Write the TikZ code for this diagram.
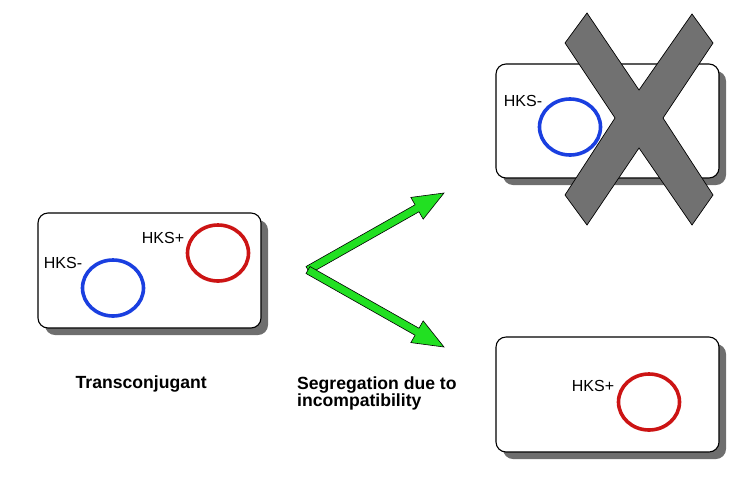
\documentclass[tikz,border=0pt]{standalone}
\usepackage{fontspec}
\setmainfont{Liberation Sans}
\usetikzlibrary{calc,shapes.geometric,shadows}
\definecolor{hksblue}{HTML}{1A3FE0}
\definecolor{hksred}{HTML}{CC1414}
\definecolor{arrowgreen}{HTML}{22E022}
\definecolor{shadowgray}{HTML}{6E6E6E}
\definecolor{crossgray}{HTML}{717171}
\begin{document}
\begin{tikzpicture}[x=1pt,y=-1pt,
  cellbox/.style={draw=black, line width=1.1pt, fill=white, rounded corners=10pt,
    minimum width=223pt, minimum height=115pt, inner sep=0pt,
    drop shadow={shadow xshift=7pt, shadow yshift=-7pt, fill=shadowgray, opacity=1}},
  plasmid/.style={ellipse, draw, line width=3.6pt, minimum width=61pt, minimum height=56pt, inner sep=0pt},
  blueplasmid/.style={plasmid, draw=hksblue},
  redplasmid/.style={plasmid, draw=hksred},
  hkslabel/.style={inner sep=0pt, font=\fontsize{16}{18}\selectfont},
  caption/.style={inner sep=0pt, font=\bfseries\fontsize{17.6}{17.5}\selectfont, align=left},
  greenarrow/.style={fill=arrowgreen, draw=black, line width=0.6pt, line join=miter}
]
\useasboundingbox (0,0) rectangle (743,480);

% left cell: transconjugant
\node[cellbox] (cellA) at (149.5,270.5) {};
\node[blueplasmid] (blueA) at (113,288) {};
\node[redplasmid] (redA) at (218,253) {};
\node[hkslabel] (labA1) at (63,263) {HKS-};
\node[hkslabel] (labA2) at (163,237.5) {HKS+};

% top-right cell (crossed out)
\node[cellbox, minimum height=114pt] (cellB) at (607.5,121) {};
\node[blueplasmid] (blueB) at (570,127) {};
\node[hkslabel] (labB) at (523,101) {HKS-};

% bottom-right cell
\node[cellbox] (cellC) at (607.5,394.5) {};
\node[redplasmid] (redC) at (649,402) {};
\node[hkslabel] (labC) at (593,386) {HKS+};

% cross
\draw[fill=crossgray, draw=black, line width=0.7pt, line join=miter]
  (565,43) -- (587,13) -- (639,90) -- (692,14) -- (713,43) -- (663,118)
  -- (713,195) -- (692,225) -- (639,148) -- (587,225) -- (565,195) -- (615,118) -- cycle;

% green arrows
\coordinate (O) at (308,270);
\coordinate (T1) at (444,193);
\coordinate (T2) at (444,347);
\foreach \T in {T1,T2}{
  \coordinate (H) at ($(\T)!31pt!(O)$);
  \draw[greenarrow]
    ($(O)!4pt!90:(\T)$) -- ($(H)!4pt!90:(\T)$) -- ($(H)!12.5pt!90:(\T)$) -- (\T)
    -- ($(H)!12.5pt!-90:(\T)$) -- ($(H)!4pt!-90:(\T)$) -- ($(O)!4pt!-90:(\T)$) -- cycle;
}

% captions
\node[caption, anchor=base west] (capA) at (75.5,388.5) {Transconjugant};
\node[caption, anchor=base west] (capB) at (297,406.5) {Segregation due to\\incompatibility};
\end{tikzpicture}
\end{document}
